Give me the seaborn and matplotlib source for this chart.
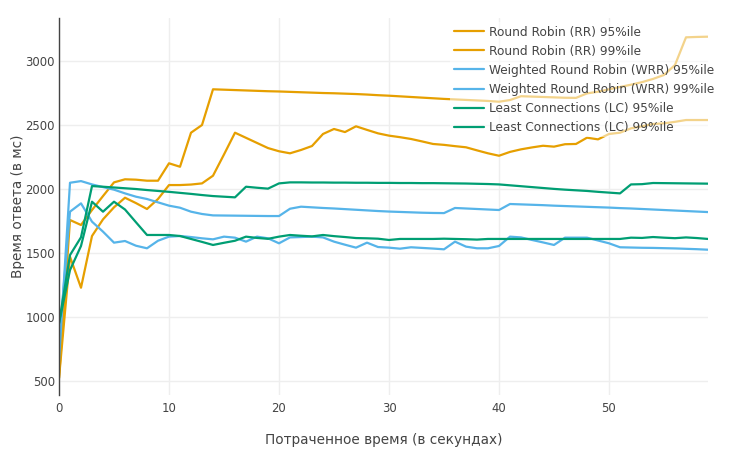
import matplotlib
matplotlib.use("Agg")
import matplotlib.pyplot as plt
import seaborn as sns
import pandas as pd

seconds = list(range(60))

rr_95 = [523, 1471, 1229, 1633, 1763, 1857, 1932, 1890, 1844, 1922,
         2031, 2031, 2035, 2044, 2104, 2270, 2440, 2400, 2360, 2320,
         2295, 2279, 2305, 2336, 2430, 2469, 2445, 2490, 2462, 2435,
         2417, 2405, 2391, 2372, 2352, 2345, 2335, 2326, 2302, 2279,
         2260, 2290, 2310, 2325, 2338, 2331, 2350, 2352, 2401, 2388,
         2430, 2440, 2474, 2490, 2508, 2513, 2525, 2539, 2539, 2539]
rr_99 = [523, 1758, 1719, 1836, 1945, 2052, 2076, 2073, 2065, 2065,
         2201, 2174, 2440, 2500, 2779, 2776, 2773, 2770, 2767, 2764,
         2762, 2759, 2756, 2753, 2750, 2748, 2745, 2742, 2738, 2733,
         2729, 2724, 2719, 2714, 2709, 2704, 2700, 2696, 2692, 2688,
         2682, 2695, 2725, 2722, 2719, 2716, 2713, 2712, 2747, 2760,
         2779, 2797, 2815, 2835, 2860, 2891, 2969, 3185, 3188, 3190]
wrr_95 = [800, 1823, 1888, 1745, 1667, 1581, 1594, 1557, 1537, 1596,
          1628, 1633, 1625, 1615, 1607, 1628, 1620, 1589, 1628, 1615,
          1576, 1622, 1625, 1628, 1622, 1589, 1565, 1542, 1581, 1547,
          1542, 1534, 1545, 1540, 1535, 1529, 1589, 1550, 1537, 1537,
          1555, 1628, 1622, 1602, 1583, 1563, 1620, 1620, 1620, 1598,
          1576, 1545, 1543, 1541, 1540, 1538, 1536, 1533, 1530, 1526]
wrr_99 = [660, 2049, 2062, 2036, 2015, 1995, 1966, 1940, 1922, 1896,
          1870, 1854, 1823, 1805, 1794, 1793, 1792, 1791, 1790, 1789,
          1789, 1846, 1862, 1857, 1852, 1848, 1843, 1838, 1833, 1828,
          1824, 1821, 1818, 1815, 1813, 1812, 1852, 1848, 1844, 1840,
          1836, 1883, 1880, 1877, 1874, 1870, 1867, 1864, 1861, 1858,
          1855, 1851, 1848, 1844, 1840, 1836, 1832, 1828, 1824, 1820]
lc_95 = [951, 1367, 1555, 1901, 1823, 1901, 1840, 1740, 1641, 1641,
         1641, 1633, 1610, 1587, 1563, 1580, 1596, 1628, 1618, 1611,
         1628, 1641, 1635, 1630, 1641, 1632, 1625, 1617, 1615, 1612,
         1602, 1610, 1610, 1610, 1610, 1612, 1610, 1608, 1605, 1610,
         1610, 1610, 1610, 1610, 1610, 1610, 1610, 1610, 1610, 1610,
         1610, 1610, 1620, 1618, 1625, 1620, 1616, 1622, 1617, 1610]
lc_99 = [951, 1484, 1623, 2023, 2018, 2012, 2006, 2000, 1992, 1985,
         1978, 1970, 1962, 1953, 1945, 1940, 1935, 2018, 2010, 2003,
         2044, 2052, 2052, 2051, 2051, 2050, 2050, 2049, 2049, 2048,
         2048, 2047, 2047, 2046, 2046, 2045, 2044, 2043, 2041, 2039,
         2036, 2029, 2022, 2015, 2008, 2001, 1995, 1990, 1985, 1978,
         1972, 1966, 2036, 2038, 2047, 2046, 2045, 2044, 2043, 2042]

series_names = [
    "Round Robin (RR) 95%ile",
    "Round Robin (RR) 99%ile",
    "Weighted Round Robin (WRR) 95%ile",
    "Weighted Round Robin (WRR) 99%ile",
    "Least Connections (LC) 95%ile",
    "Least Connections (LC) 99%ile",
]
series_values = [rr_95, rr_99, wrr_95, wrr_99, lc_95, lc_99]
series_colors = ["#E69F00", "#E69F00", "#56B4E9", "#56B4E9", "#009E73", "#009E73"]

x_ticks = [0, 10, 20, 30, 40, 50]
y_ticks = [500, 1000, 1500, 2000, 2500, 3000]

frames = [pd.DataFrame({"t": seconds, "ms": vals, "series": name})
          for name, vals in zip(series_names, series_values)]
df = pd.concat(frames, ignore_index=True)

sns.set_style("white")
plt.rcParams["font.family"] = ["DejaVu Sans"]

W, H = 732, 455
fig = plt.figure(figsize=(W / 100, H / 100), dpi=100)
left, right, top, bottom = 59, 708, 18, 395
ax = fig.add_axes([left / W, 1 - bottom / H, (right - left) / W, (bottom - top) / H])

sns.lineplot(data=df, x="t", y="ms", hue="series", hue_order=series_names,
             palette=dict(zip(series_names, series_colors)), linewidth=1.6,
             ax=ax, legend=True)

ax.set_xlim(0, 59)
ax.set_ylim(391, 3336)
ax.set_xticks(x_ticks)
ax.set_yticks(y_ticks)
ax.grid(True, color="#eeeeee", linewidth=1)
ax.set_axisbelow(True)
for s in ["top", "right", "bottom"]:
    ax.spines[s].set_visible(False)
ax.spines["left"].set_color("#444444")
ax.spines["left"].set_linewidth(1)
ax.tick_params(axis="both", length=0, labelsize=8.4, colors="#444444")
ax.tick_params(axis="x", pad=5)
ax.tick_params(axis="y", pad=3)
ax.set_xlabel("")
ax.set_ylabel("")

fig.text((left + right) / 2 / W, 1 - 440 / H, "Потраченное время (в секундах)",
         ha="center", va="center", fontsize=9.8, color="#444444")
fig.text(18 / W, 1 - 206 / H, "Время ответа (в мс)", rotation=90,
         ha="center", va="center", fontsize=9.8, color="#444444")

handles, labels = ax.get_legend_handles_labels()
ax.get_legend().remove()
leg = fig.legend(handles, labels, loc="upper left",
                 bbox_to_anchor=(450 / W, 1 - 22 / H), frameon=True,
                 framealpha=0.55, facecolor="white", edgecolor="none",
                 fontsize=8.7, handlelength=2.5, handletextpad=0.45,
                 labelspacing=0.5, borderpad=0.3, borderaxespad=0)
for t in leg.get_texts():
    t.set_color("#444444")

fig.savefig("out.png", dpi=100)
